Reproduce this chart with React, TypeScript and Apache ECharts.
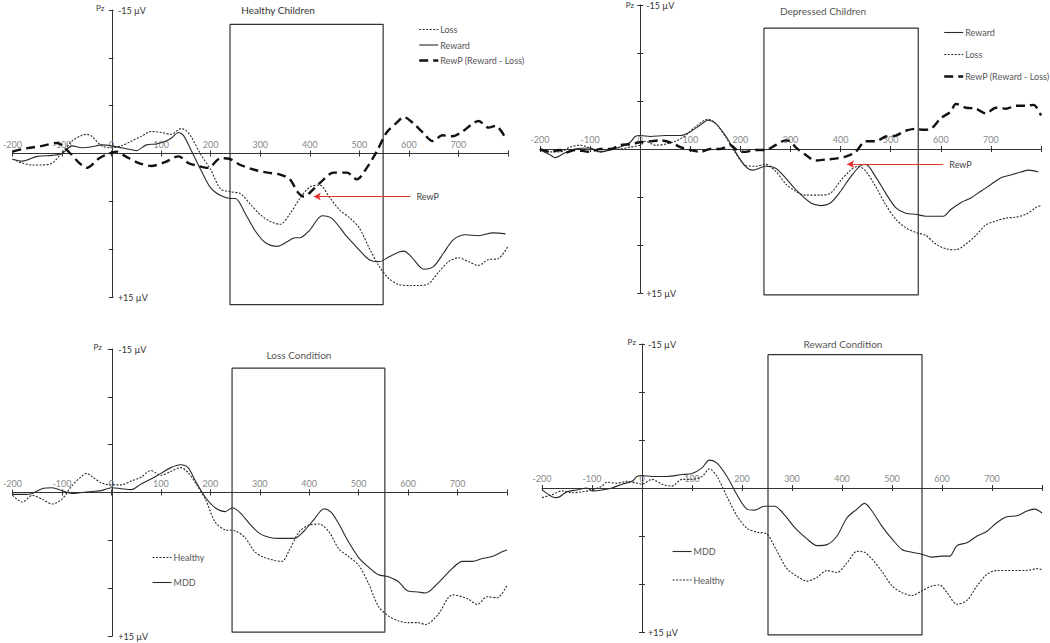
import React, { useEffect, useRef } from "react";
import * as echarts from "echarts";

// ---------- Data (ms, µV; positive = down) ----------
// Panel 1: Healthy Children
const p1LossT = [-200,-180,-160,-140,-120,-100,-80,-60,-50,-40,-20,0,20,40,60,80,100,120,140,150,160,180,200,220,240,260,280,300,320,340,360,380,400,420,440,460,480,500,520,540,560,580,600,620,640,660,680,700,720,740,760,780,800];
const p1LossV = [0.6,1.0,1.2,1.2,1.0,-0.1,-1.3,-1.9,-2.0,-1.8,-0.8,-0.6,-0.8,-1.3,-1.8,-2.3,-2.2,-2.0,-2.6,-2.4,-1.8,0.1,1.7,3.7,4.0,4.2,5.3,6.4,7.1,7.4,6.3,4.7,3.5,3.3,4.6,5.9,6.7,7.8,9.9,11.8,13.1,13.7,13.8,13.8,13.6,12.4,11.3,10.9,11.3,11.7,11.1,11.0,9.7];
const p1RewardT = [-200,-180,-150,-120,-100,-80,-60,-40,-20,0,20,40,50,70,90,110,120,135,145,160,180,200,220,240,250,270,290,310,335,355,370,380,400,425,445,475,500,520,540,560,580,590,605,630,650,670,690,715,740,770,795];
const p1RewardV = [0.6,0.8,0.3,0.2,0,-0.8,-0.6,-0.7,-0.9,-0.8,-0.6,-0.4,-0.3,-0.9,-1.0,-1.3,-1.6,-2.2,-1.9,-0.4,1.7,3.6,4.4,4.7,4.7,6.3,8.1,9.3,9.7,9.2,8.8,8.8,8.0,6.5,6.8,8.7,10.1,11.1,11.3,10.8,10.3,10.2,10.8,12.1,11.8,10.4,9.0,8.5,8.6,8.3,8.4];
const p1RewPT = [-200,-185,-165,-140,-110,-85,-65,-50,-25,-5,10,28,55,80,108,135,155,175,195,220,240,260,288,315,340,360,375,388,400,420,448,475,495,515,535,555,575,590,608,628,648,668,688,708,741,761,775,795];
const p1RewPV = [-0.2,-0.4,-0.6,-0.8,-1.1,-0.1,1.0,1.5,0.5,0,-0.2,0.3,1.0,1.3,0.9,0.3,1.0,1.3,1.5,0.5,0.6,1.2,1.7,2.0,2.2,2.7,4.0,4.5,4.1,3.1,2.0,2.0,2.7,1.5,-0.2,-2.2,-3.2,-3.8,-3.2,-2.2,-1.3,-1.9,-1.8,-2.3,-3.4,-2.7,-2.9,-1.6];

// Panel 2: Depressed Children
const p2RewardT = [-200,-180,-170,-150,-130,-100,-80,-60,-40,-20,-10,0,20,50,80,100,120,135,150,170,190,210,225,250,270,290,310,340,360,380,400,420,440,450,470,490,510,530,550,570,590,605,620,640,660,680,700,720,740,760,775,795];
const p2RewardV = [0.1,0.6,0.9,0.4,0,-0.1,0.3,0.1,-0.2,-0.7,-1.3,-1.4,-1.3,-1.4,-1.4,-1.8,-2.5,-3.0,-2.7,-1.4,0.3,1.8,2.2,1.8,2.0,3.0,4.2,5.6,5.9,5.6,4.4,2.9,1.7,1.6,2.9,4.6,6.1,6.7,6.8,7.0,7.0,7.0,6.3,5.6,5.1,4.4,3.7,3.0,2.7,2.4,2.2,2.4];
const p2LossT = [-200,-180,-160,-140,-120,-100,-80,-60,-40,-20,0,10,30,50,70,90,110,135,150,170,190,210,230,250,270,290,310,330,360,380,400,420,435,450,470,490,510,530,550,570,590,610,630,650,670,690,710,730,750,770,790,800];
const p2LossV = [0.1,0.3,0.3,-0.2,-0.4,-0.1,0.3,0.1,0,-0.2,-0.4,-0.8,-0.4,-0.5,-0.8,-1.4,-2.3,-3.1,-2.7,-1.3,0.4,1.7,1.8,1.6,2.3,3.6,4.4,4.8,4.8,4.6,3.3,2.2,1.8,2.3,3.9,5.8,7.3,8.2,8.7,9.0,9.9,10.4,10.5,9.9,9.0,7.9,7.5,7.2,7.1,6.8,6.1,5.9];
const p2RewPT = [-200,-180,-160,-150,-130,-100,-80,-60,-40,-20,0,20,40,60,80,100,120,140,160,180,195,210,230,250,270,290,300,310,330,350,370,390,410,430,450,470,490,510,530,550,565,580,600,620,630,650,670,690,710,730,750,770,785,800];
const p2RewPV = [0,0.3,0.1,0.4,0.1,0.3,0,0,-0.4,-0.5,-0.7,-0.8,-0.9,-0.7,-0.2,0.1,0.3,0,0,-0.4,0.2,0.3,0.1,0.1,-0.4,-0.9,-0.8,-0.2,0.6,1.2,1.1,1.0,0.8,0.3,-0.8,-0.8,-1.3,-1.4,-1.9,-2.1,-2.0,-2.1,-3.2,-3.9,-4.7,-4.3,-4.2,-3.7,-4.3,-4.2,-4.5,-4.5,-4.6,-3.5];

// Panel 3: Loss Condition
const p3HealthyT = [-200,-180,-160,-140,-120,-100,-80,-60,-50,-40,-20,0,20,40,60,80,100,120,140,155,170,190,210,230,250,270,290,310,330,345,360,380,400,420,440,460,480,500,520,540,560,580,600,620,635,660,690,720,740,760,780,800];
const p3HealthyV = [0.3,1.0,0.3,0.7,1.2,0.7,-0.7,-1.7,-2.0,-1.7,-1.0,-0.8,-0.8,-1.2,-1.6,-2.3,-1.8,-2.2,-2.6,-2.1,-1.0,0.7,3.1,3.9,4.0,4.7,6.2,6.8,7.1,7.2,6.0,4.1,3.4,3.3,4.1,5.9,6.7,7.6,9.5,11.9,12.9,13.4,13.6,13.6,13.8,12.8,10.7,11.1,11.7,10.9,11.0,9.7];
const p3MddT = [-200,-180,-160,-140,-120,-100,-80,-60,-40,-20,0,20,40,60,80,100,120,140,155,170,190,210,230,245,260,280,300,320,340,370,390,410,430,445,460,480,500,520,540,560,580,600,620,635,660,690,710,730,750,770,790,800];
const p3MddV = [0.2,0.2,0.1,-0.4,-0.5,-0.2,0.1,0,-0.1,-0.2,-0.5,-0.4,-0.3,-0.9,-1.4,-2.0,-2.6,-2.9,-2.6,-1.2,0.5,1.6,2.0,1.6,2.1,3.3,4.3,4.7,4.8,4.8,4.0,2.8,1.7,2.1,3.3,5.2,6.8,7.8,8.6,8.8,9.3,10.3,10.4,10.5,9.5,7.9,7.2,7.2,6.9,6.7,6.2,6.0];

// Panel 4: Reward Condition
const p4MddT = [-200,-180,-170,-150,-130,-110,-100,-80,-60,-40,-20,-10,0,20,50,80,100,120,135,150,170,190,210,225,245,265,285,305,330,350,370,390,410,430,445,460,480,500,520,540,560,580,600,615,630,650,670,690,710,730,750,770,785,800];
const p4MddV = [0.2,0.9,1.0,0.4,0.2,0,0.3,0.2,0,-0.4,-0.7,-1.2,-1.3,-1.2,-1.2,-1.4,-1.5,-2.1,-2.9,-2.6,-1.2,0.7,2.2,2.3,1.9,1.9,2.8,4.1,5.3,6.0,5.9,5.0,3.1,2.2,1.6,2.4,4.0,5.3,6.4,6.7,6.9,7.2,7.1,7.1,6.0,5.7,5.0,4.5,3.6,3.0,2.9,2.4,2.2,2.6];
const p4HealthyT = [-200,-180,-160,-140,-120,-100,-80,-70,-50,-30,-10,0,20,40,60,80,100,120,135,150,170,190,210,230,250,270,290,310,330,350,370,390,410,430,445,460,480,500,520,540,560,580,595,610,630,650,670,690,710,730,750,770,790,800];
const p4HealthyV = [1.0,0.7,0.3,0.5,0.4,0.2,-0.2,-0.6,-0.5,-0.7,-0.5,-0.4,-0.9,-0.4,-0.2,-0.9,-0.9,-1.2,-2.0,-1.2,0.9,2.9,4.2,4.6,4.8,6.6,8.4,9.2,9.7,9.3,8.6,8.8,7.8,6.6,6.7,7.4,8.7,10.2,10.9,11.2,10.7,10.2,10.1,10.9,12.1,11.7,10.2,9.0,8.6,8.6,8.6,8.6,8.4,8.5];

// Analysis windows (ms range, µV range)
const boxX = [[239, 548], [247, 555], [244, 553], [252, 560]];
const boxY = [[-13.5, 15.8], [-12.6, 15.2], [-13.0, 14.6], [-13.9, 15.3]];

// RewP arrows (from ms, to ms, at µV)
const arrows = [[603, 408, 4.5], [605, 413, 1.6]];

const titles = ["Healthy Children", "Depressed Children", "Loss Condition", "Reward Condition"];
const xTicks = { min: -200, max: 800, step: 100 };
const yTicks = { min: -15, max: 15, step: 5 };

const REWP = "RewP (Reward - Loss)";
const legends = [
  ["Loss", "Reward", REWP],
  ["Reward", "Loss", REWP],
  ["Healthy", "MDD"],
  ["MDD", "Healthy"],
];

// ---------- Layout ----------
const FONT = "Lato, 'Open Sans', 'Liberation Sans', sans-serif";
const grids = [
  { left: 11, top: 10, width: 497, height: 287 },
  { left: 540, top: 5, width: 501, height: 288 },
  { left: 8, top: 349, width: 499, height: 287 },
  { left: 542, top: 344, width: 500, height: 288 },
];
const titlePos = [[278, 10], [823, 11], [299, 355], [843, 344]];
const legendPos = [
  { left: 418, top: 25, itemGap: 6.5 },
  { left: 943, top: 28, itemGap: 13 },
  { left: 152, top: 553, itemGap: 16 },
  { left: 672, top: 547, itemGap: 19.5 },
];
const titleColors = ["#333", "#555", "#555", "#555"];

const zip = (t: number[], v: number[]) => t.map((x, i) => [x, v[i]]);

const solid = { color: "#2a2a2a", width: 1.1, type: "solid" as any };
const dotted = { color: "#2a2a2a", width: 1.1, type: [2, 1.5] as any };
const dashed = { color: "#111", width: 2.4, type: [9, 5] as any };

function lineSeries(name: string, idx: number, data: number[][], style: any) {
  return {
    name,
    type: "line",
    xAxisIndex: idx,
    yAxisIndex: idx,
    data,
    symbol: "none",
    showSymbol: false,
    smooth: 0.3,
    silent: true,
    lineStyle: style,
    z: 3,
  };
}

function boxSeries(idx: number) {
  const [x0, x1] = boxX[idx];
  const [y0, y1] = boxY[idx];
  const s: any = {
    name: "window" + idx,
    type: "line",
    xAxisIndex: idx,
    yAxisIndex: idx,
    data: [[x0, y0], [x1, y0], [x1, y1], [x0, y1], [x0, y0]],
    symbol: "none",
    showSymbol: false,
    clip: false,
    silent: true,
    lineStyle: { color: "#333", width: 1.2 },
    z: 2,
  };
  if (idx < arrows.length) {
    const [from, to, y] = arrows[idx];
    s.markLine = {
      silent: true,
      symbol: ["none", "arrow"],
      symbolSize: [6, 7],
      lineStyle: { color: "#e8302a", width: 1, type: "solid" },
      label: { show: true, position: "start", formatter: "RewP", color: "#444", fontSize: 9, fontFamily: FONT, distance: 6 },
      data: [[{ coord: [from, y] }, { coord: [to, y] }]],
    };
  }
  return s;
}

export default function App() {
  const ref = useRef<HTMLDivElement>(null);
  useEffect(() => {
    if (!ref.current) return;
    const chart = echarts.init(ref.current, undefined, { renderer: "svg" });

    const yZeroOffset = (g: any) => -(g.height * (0 - yTicks.min)) / (yTicks.max - yTicks.min);
    const xZeroOffset = (g: any) => -(g.width * (0 - xTicks.min)) / (xTicks.max - xTicks.min);
    const tickStyle = { show: true, length: 3, lineStyle: { color: "#333" } };

    // x axis crosses at 0 µV (middle of the grid), y axis at 0 ms
    const xMain = grids.map((g, i) => ({
      gridIndex: i,
      type: "value",
      position: "top",
      offset: yZeroOffset(g),
      min: xTicks.min,
      max: xTicks.max,
      interval: xTicks.step,
      axisLine: { onZero: false, lineStyle: { color: "#333", width: 1 } },
      axisTick: tickStyle,
      axisLabel: {
        margin: 5,
        color: "#888",
        fontSize: 9,
        fontFamily: FONT,
        formatter: (v: number) => (v === xTicks.max ? "" : String(v)),
      },
      splitLine: { show: false },
    }));
    // twin axes only to draw the other half of the crossing ticks
    const xTwin = grids.map((g, i) => ({
      gridIndex: i,
      type: "value",
      position: "bottom",
      offset: yZeroOffset(g),
      min: xTicks.min,
      max: xTicks.max,
      interval: xTicks.step,
      axisLine: { show: false, onZero: false },
      axisTick: tickStyle,
      axisLabel: { show: false },
      splitLine: { show: false },
    }));
    const yMain = grids.map((g, i) => ({
      gridIndex: i,
      type: "value",
      position: "left",
      offset: xZeroOffset(g),
      min: yTicks.min,
      max: yTicks.max,
      interval: yTicks.step,
      inverse: true,
      axisLine: { onZero: false, lineStyle: { color: "#333", width: 1 } },
      axisTick: tickStyle,
      axisLabel: {
        inside: true,
        margin: 6,
        color: "#333",
        fontSize: 9,
        fontFamily: FONT,
        formatter: (v: number) => (v === yTicks.min ? "-15 µV" : v === yTicks.max ? "+15 µV" : ""),
      },
      splitLine: { show: false },
    }));
    const yTwin = grids.map((g, i) => ({
      gridIndex: i,
      type: "value",
      position: "right",
      offset: -g.width - xZeroOffset(g),
      min: yTicks.min,
      max: yTicks.max,
      interval: yTicks.step,
      inverse: true,
      axisLine: { show: false, onZero: false },
      axisTick: tickStyle,
      axisLabel: { show: false },
      splitLine: { show: false },
    }));

    const series: any[] = [
      lineSeries("Loss", 0, zip(p1LossT, p1LossV), dotted),
      lineSeries("Reward", 0, zip(p1RewardT, p1RewardV), solid),
      lineSeries(REWP, 0, zip(p1RewPT, p1RewPV), dashed),
      lineSeries("Reward", 1, zip(p2RewardT, p2RewardV), solid),
      lineSeries("Loss", 1, zip(p2LossT, p2LossV), dotted),
      lineSeries(REWP, 1, zip(p2RewPT, p2RewPV), dashed),
      lineSeries("Healthy", 2, zip(p3HealthyT, p3HealthyV), dotted),
      lineSeries("MDD", 2, zip(p3MddT, p3MddV), solid),
      lineSeries("MDD", 3, zip(p4MddT, p4MddV), solid),
      lineSeries("Healthy", 3, zip(p4HealthyT, p4HealthyV), dotted),
      boxSeries(0),
      boxSeries(1),
      boxSeries(2),
      boxSeries(3),
    ];

    const legend = legends.map((names, i) => ({
      data: names,
      orient: "vertical",
      left: legendPos[i].left,
      top: legendPos[i].top,
      itemGap: legendPos[i].itemGap,
      itemWidth: 19,
      itemHeight: 10,
      padding: 0,
      selectedMode: false,
      itemStyle: { opacity: 0 },
      lineStyle: { width: "inherit" },
      textStyle: { fontSize: 9, color: "#555", fontFamily: FONT, padding: [0, 0, 0, -3] },
    }));

    const graphic: any[] = [];
    titles.forEach((t, i) => {
      graphic.push({
        type: "text",
        x: titlePos[i][0],
        y: titlePos[i][1],
        silent: true,
        style: { text: t, fill: titleColors[i], fontSize: 10, fontFamily: FONT, align: "center", verticalAlign: "middle" },
      });
      const g = grids[i];
      const zeroX = g.left - xZeroOffset(g);
      graphic.push({
        type: "text",
        x: zeroX - 6,
        y: Math.max(g.top - 2, 5),
        silent: true,
        style: { text: "Pz", fill: "#333", fontSize: 8, fontFamily: FONT, align: "right", verticalAlign: "middle" },
      });
    });

    chart.setOption({
      animation: false,
      backgroundColor: "#ffffff",
      grid: grids.map((g) => ({ ...g, containLabel: false })),
      xAxis: [...xMain, ...xTwin],
      yAxis: [...yMain, ...yTwin],
      legend,
      graphic,
      series,
    });
    return () => chart.dispose();
  }, []);

  return (
    <div
      ref={ref}
      style={{ position: "fixed", left: 0, top: 0, width: 1050, height: 643, background: "#fff" }}
    />
  );
}
